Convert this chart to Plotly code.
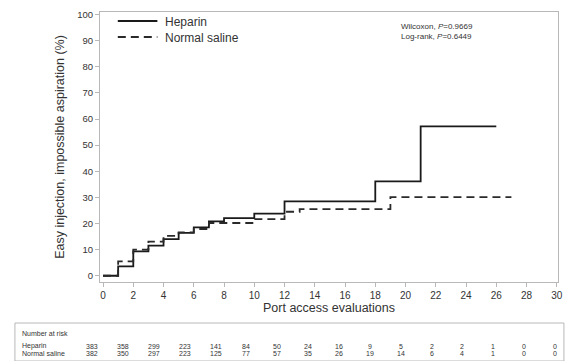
import plotly.graph_objects as go

# Kaplan-Meier style cumulative incidence (%) by port access evaluation
heparin_x = [0, 1, 2, 3, 4, 5, 6, 7, 8, 10, 12, 18, 21, 26]
heparin_y = [0, 3.6, 9.3, 11.5, 14.0, 16.4, 18.5, 20.8, 22.1, 23.8, 28.5, 36.1, 57.2, 57.2]

saline_x = [0, 1, 2, 3, 4, 5, 6, 7, 10, 12, 13, 19, 27]
saline_y = [0, 5.5, 10.0, 13.1, 15.3, 16.6, 17.9, 20.2, 21.7, 24.5, 25.5, 30.1, 30.1]

# Number at risk table
risk_times = [0, 2, 4, 6, 8, 10, 12, 14, 16, 18, 20, 22, 24, 26, 28, 30]
risk_heparin = [383, 358, 299, 223, 141, 84, 50, 24, 16, 9, 5, 2, 2, 1, 0, 0]
risk_saline = [382, 350, 297, 223, 125, 77, 57, 35, 26, 19, 14, 6, 4, 1, 0, 0]

x_ticks = list(range(0, 31, 2))
y_ticks = list(range(0, 101, 10))

FONT = "Arial, Liberation Sans, sans-serif"
TEXT = "#333333"
FRAME = "#b8b8b8"
SOLID = dict(color="#1a1a1a", width=1.8)
DASHED = dict(color="#2a2a2a", width=1.8, dash="8px,5px")

fig = go.Figure()
fig.add_trace(go.Scatter(
    x=heparin_x, y=heparin_y, mode="lines", name="Heparin",
    line=dict(shape="hv", **SOLID),
))
fig.add_trace(go.Scatter(
    x=saline_x, y=saline_y, mode="lines", name="Normal saline",
    line=dict(shape="hv", **DASHED),
))

L, R, T, B = 100, 8, 12, 79
W, H = 571, 361
plot_w = W - L - R
plot_h = H - T - B


def px_x(px):
    return (px - L) / plot_w


def px_y(py):
    return (H - B - py) / plot_h


fig.update_layout(
    width=W, height=H,
    margin=dict(l=L, r=R, t=T, b=B),
    paper_bgcolor="white", plot_bgcolor="white",
    font=dict(family=FONT, color=TEXT),
    showlegend=False,
    xaxis=dict(
        range=[-0.2, 30.08], tickvals=x_ticks, ticktext=[str(v) for v in x_ticks],
        showgrid=False, zeroline=False, showline=True, linecolor=FRAME, mirror=True,
        ticks="outside", ticklen=4, tickcolor=FRAME, tickfont=dict(size=10, color=TEXT),
        title=dict(text="Port access evaluations", font=dict(size=12.5, color=TEXT), standoff=2),
    ),
    yaxis=dict(
        range=[-2.4, 101], tickvals=y_ticks, ticktext=[str(v) for v in y_ticks],
        showgrid=False, zeroline=False, showline=True, linecolor=FRAME, mirror=True,
        ticks="outside", ticklen=4, tickcolor=FRAME, tickfont=dict(size=9.5, color=TEXT),
        title=dict(text="Easy injection, impossible aspiration (%)",
                   font=dict(size=12.5, color=TEXT), standoff=9),
    ),
)

# Legend keys drawn inside the upper-left corner of the plot
for label, style, py in [("Heparin", SOLID, 21), ("Normal saline", DASHED, 37)]:
    fig.add_shape(type="line", xref="paper", yref="paper",
                  x0=px_x(118), x1=px_x(158), y0=px_y(py), y1=px_y(py),
                  line=style)
    fig.add_annotation(xref="paper", yref="paper", x=px_x(164), y=px_y(py + 0.5),
                       xanchor="left", yanchor="middle", showarrow=False,
                       text=label, font=dict(size=12, color=TEXT))

# Log-rank / Wilcoxon results
fig.add_annotation(
    xref="paper", yref="paper", x=px_x(402), y=px_y(20),
    xanchor="left", yanchor="top", align="left", showarrow=False,
    text="Wilcoxon, <i>P</i>=0.9669<br>Log-rank, <i>P</i>=0.6449",
    font=dict(size=8, color=TEXT),
)

# Number-at-risk box below the axis
fig.add_shape(
    type="rect", xref="paper", yref="paper",
    x0=px_x(14), x1=px_x(569), y0=px_y(361), y1=px_y(323),
    line=dict(color=FRAME, width=1), fillcolor="rgba(0,0,0,0)",
)
for label, py in [("Number at risk", 333), ("Heparin", 346), ("Normal saline", 353)]:
    fig.add_annotation(xref="paper", yref="paper", x=px_x(19), y=px_y(py),
                       xanchor="left", yanchor="middle", showarrow=False,
                       text=label, font=dict(size=7, color=TEXT))

col_first, col_last = 92, 560
n = len(risk_times)
for i, (h, s) in enumerate(zip(risk_heparin, risk_saline)):
    cx = col_first + (col_last - col_first) * i / (n - 1)
    fig.add_annotation(xref="paper", yref="paper", x=px_x(cx), y=px_y(346),
                       xanchor="center", yanchor="middle", showarrow=False,
                       text=str(h), font=dict(size=7, color=TEXT))
    fig.add_annotation(xref="paper", yref="paper", x=px_x(cx), y=px_y(353),
                       xanchor="center", yanchor="middle", showarrow=False,
                       text=str(s), font=dict(size=7, color=TEXT))

fig.write_html("out.html")
